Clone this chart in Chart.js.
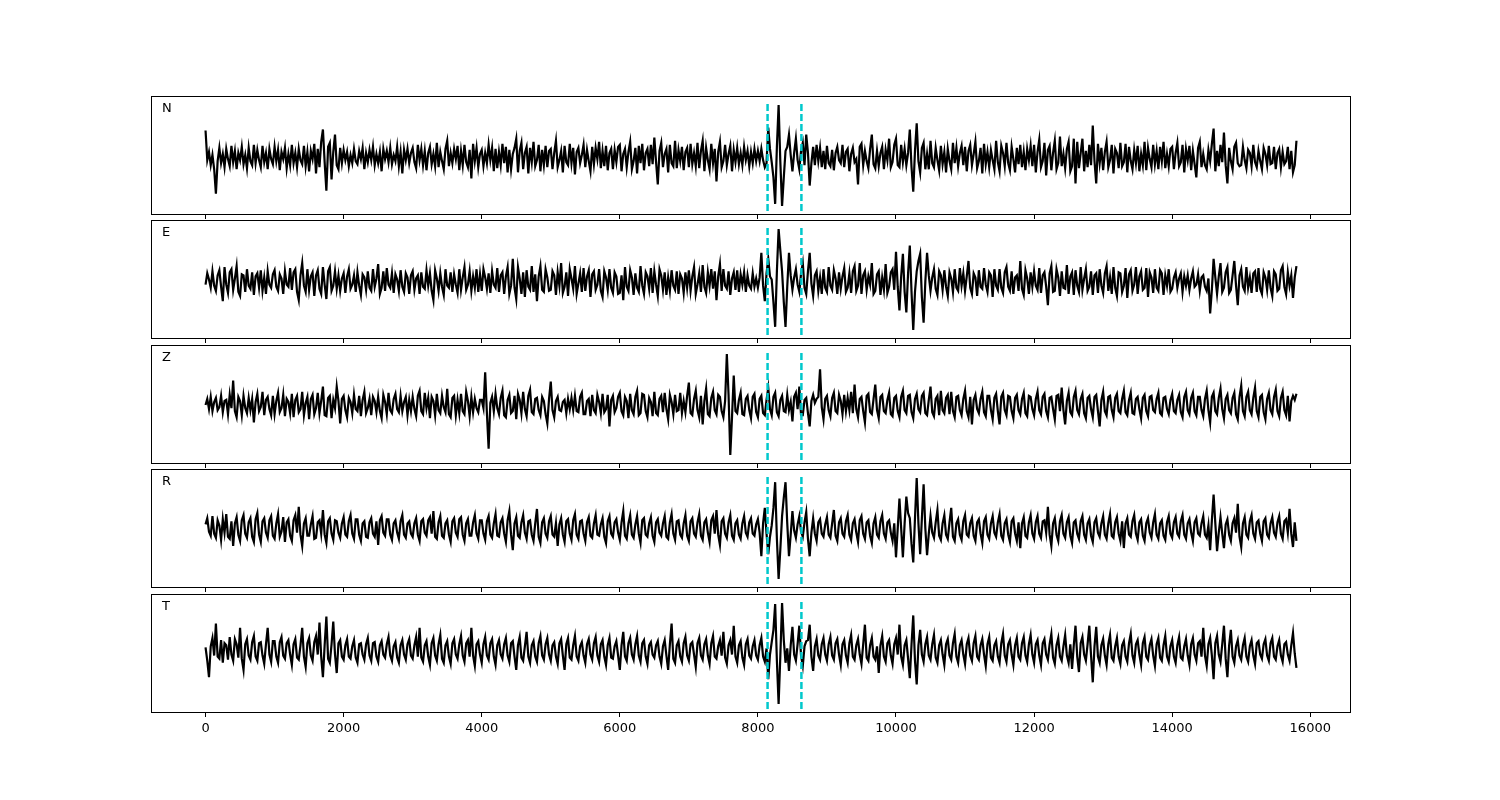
<!DOCTYPE html>
<html>
<head>
<meta charset="utf-8">
<script src="https://cdn.jsdelivr.net/npm/chart.js"></script>
<style>
  body { margin: 0; background: #fff; }
  #wrap { position: relative; width: 1500px; height: 800px; }
  #wrap canvas { position: absolute; }
</style>
</head>
<body>
<div id="wrap"></div>
<script>
// samples between points
const step = 25;
const pickTimes = [8140, 8630];
const xTicks = [0, 2000, 4000, 6000, 8000, 10000, 12000, 14000, 16000];
const channels = ["N", "E", "Z", "R", "T"];

// amplitudes read per channel (arbitrary units, up = positive)
const traceN = [
  26,-3,5,-8,2,-12,-36,-4,9,-6, 3,-10,8,-2,-9,11,-5,6,-12,4, -3,10,-7,2,-11,9,-4,-8,12,-6, 7,-3,-10,11,-5,4,-12,8,-2,-7,
  10,-4,7,-13,5,-2,9,-11,3,-8, 12,-6,4,-10,8,-3,-7,11,-9,5, -14,6,-2,13,-16,8,-10,15,27,-5, -33,10,14,-22,5,22,-8,-12,9,-6,
  7,-3,5,-9,2,-6,8,-4,-7,6, -2,9,-12,4,-5,7,-3,10,-8,3, -6,5,-14,8,-2,6,-5,9,-7,2, -4,10,-9,5,-16,7,-3,8,-6,4,
  9,-5,-11,12,-3,8,-8,6,-13,4, 10,-7,3,-9,14,-10,5,-4,-12,8, 16,-9,4,-6,8,-2,11,-13,6,-8, 12,-5,-10,7,-21,13,-4,9,-10,3,
  7,-9,4,-6,12,-3,9,-14,8,-11, 5,-8,13,-6,10,-15,7,-12,3,9, 18,-15,6,14,-12,4,10,-16,9,-5, 15,-9,-3,12,-14,7,-8,11,-10,6,
  8,-12,4,16,-10,-3,6,-15,11,-5, -8,13,-6,9,-17,5,9,-6,2,12, -10,7,-4,-14,10,-7,9,-2,15,-11, 6,-9,11,-13,4,8,-12,7,-5,10,
  12,-14,3,8,-10,5,15,-12,-4,9, -16,11,-6,13,-13,4,8,-9,12,-7, 19,-5,-27,6,14,-10,3,8,-15,12, -6,-9,16,-11,7,-4,10,-13,5,9,
  -10,13,-7,4,-9,14,-11,6,16,-14, 9,-3,-12,13,-6,8,-24,5,15,-10, -4,12,-8,3,11,-14,7,-5,9,-7, 4,-8,10,-3,6,-9,5,-6,8,-4,
  6,-4,8,-3,-10,-6,29,8,-5,-20, -46,10,51,-5,-48,-20,6,10,22,2, -14,4,18,-3,-12,6,14,-8,22,4, -28,-6,10,-8,12,-4,9,-10,6,-12,
  11,-6,-9,7,-13,4,10,-3,-6,12, -10,5,8,-14,3,9,-5,-2,-27,10, 13,-8,6,-4,-11,8,22,-7,-11,6, -9,4,10,-12,7,-3,18,-10,-5,12,
  18,-8,-10,12,-5,8,-8,4,27,-10, -34,6,33,-4,-15,9,14,-12,3,-12, 16,-6,-10,9,-3,-13,11,-7,5,-15, 8,-4,-12,14,-6,9,-9,4,11,-8,
  10,-14,6,12,-8,3,15,-11,-4,9, -16,13,-7,5,-10,7,-3,-12,16,-5, -14,11,4,-9,14,-6,-13,10,-2,-15, 9,-7,12,-10,5,-13,8,-3,11,-9,
  12,-15,5,17,-10,-4,14,-18,7,11, -13,4,16,-12,-6,20,-9,3,-11,8, 15,-14,-9,18,-26,15,-11,4,18,-14, 6,-10,12,-8,31,-4,-26,13,-6,9,
  -13,5,15,-10,-3,12,-16,8,4,-11, 14,-9,-5,13,-15,10,-4,-12,7,-6, 11,-14,3,-8,15,-13,9,-2,-10,12, -7,6,-12,10,-4,15,-11,3,-9,8,
  10,-12,4,14,-9,-5,12,-15,8,-3, 11,-13,6,-7,-20,9,15,-10,3,-8, -12,7,-4,13,28,-14,6,-9,12,-5, 24,-8,-26,9,-4,-12,10,14,-6,-9,
  -8,10,-3,-11,7,4,-9,12,-5,-10, 6,-4,-12,9,3,-8,11,-7,-6,10, -12,4,8,-10,5,-7,-4,10,-12,6, -15,-8,16
];
const traceE = [
  -3,8,2,-6,10,-4,-9,6,11,-5, -19,14,-3,-11,9,12,-8,3,15,-10, -14,7,6,-10,12,-4,-7,9,-13,5, 8,-6,11,-9,4,-12,10,-3,-6,7,
  11,-5,-9,7,3,-12,10,-3,-5,13, -8,9,12,-10,-18,6,18,-4,-10,12, -8,5,9,-14,6,11,-7,-12,14,-3, -17,10,14,-9,-4,10,-7,6,-9,3,
  8,-11,5,12,-7,-3,6,-10,9,-4, -13,7,4,-8,10,-6,-9,12,-5,3, 17,-12,-6,10,-9,13,-3,-6,8,-11, 7,2,-9,11,-5,-10,8,4,-12,6,
  10,-8,3,6,-12,9,-5,-7,11,-4, 8,-9,-18,11,3,-9,8,-5,-13,12, -4,-6,9,-10,7,-3,-11,12,-8,4, 14,-8,-3,10,-9,5,-6,12,-10,7,
  -9,12,4,-7,8,-11,10,-3,-6,13, -10,6,9,-12,5,14,-12,-4,22,-6, -17,14,3,-12,9,-15,11,-5,-8,15, -10,7,-19,5,15,-8,-10,12,4,-9,
  -8,10,6,-13,9,-4,18,-11,-5,9, -14,12,3,-7,15,-12,-2,8,-10,13, -9,5,11,-15,7,10,-8,-3,12,-9, -15,10,4,-8,12,-6,-11,9,5,-12,
  -11,6,-18,14,-5,-9,11,4,-13,8, -6,-10,15,-4,-12,9,5,-7,13,-11, 10,-3,-14,12,6,-8,9,-13,4,-9, 11,-4,-8,10,-12,7,3,-11,9,-6,
  11,-9,5,14,-12,-3,8,-10,16,-5, -11,9,-4,12,-7,10,-18,5,17,-9, 12,-4,-7,10,-13,3,9,-8,11,-10, 7,-3,9,-10,6,-4,-7,8,-5,3,
  -6,4,28,-4,-19,8,22,5,2,-20, -44,10,51,30,10,-20,-44,-5,28,6, -8,4,12,-3,-10,8,18,-6,-12,10, 28,-2,-14,6,10,-9,4,-12,12,-6,
  -10,14,-4,-8,11,3,-12,9,-7,5, 13,-10,-6,8,-11,10,15,-9,-4,18, -12,6,10,-8,5,-3,18,-12,-9,7, 10,-13,4,-8,17,-11,-5,9,12,-8,
  29,-5,-28,5,27,-10,-30,8,35,-10, -47,-10,10,20,27,-15,-40,0,28,6, -9,4,12,-7,-13,10,6,-8,11,-5, -14,9,3,-10,12,-6,-9,13,-4,8,
  -9,5,20,-6,-12,8,4,-14,11,-5, -7,13,-3,-10,9,6,-15,12,-4,-8, 12,-6,-11,9,14,-5,-9,10,-12,4, 6,-9,20,-7,-13,11,3,-12,9,-5,
  10,-4,-8,13,-11,6,9,-5,-23,8, 15,-10,-9,12,4,-14,10,-6,-7,16, -12,5,9,-13,11,-4,-10,14,-8,3, 12,-9,-5,10,-13,6,8,-11,12,-4,
  -11,8,15,-9,4,-12,14,-6,-14,9, 8,-10,-4,13,-16,7,11,-9,-3,14, -12,5,10,-8,-6,13,-15,9,4,-11, 12,-6,-9,11,8,-13,6,-4,12,-10,
  -7,4,9,-6,3,8,-10,5,-4,6, -8,3,10,-5,-3,7,-9,4,6,-5, -9,3,-31,-8,22,4,-12,5,18,-10, -6,9,14,-11,-8,6,20,-4,-23,6,
  12,-5,-9,14,-6,4,-11,8,10,-10, 13,-7,-12,9,4,-8,11,-6,-14,10, 7,-9,-7,11,15,-5,-12,9,-4,6, -16,4,15
];
const traceZ = [
  0,6,-4,8,-6,3,7,-5,-2,9, -7,4,5,-9,10,-3,24,-6,-12,8, 4,-10,9,-3,-8,7,-5,6,-17,3, 11,-6,-2,13,-10,5,8,-4,-10,9,
  -9,4,12,-7,-3,10,-11,6,3,-8, 11,-12,5,9,-7,-4,13,-10,2,8, -14,6,10,-9,-3,12,-8,4,18,-10, -11,7,9,-13,5,-3,18,4,-18,6,
  9,-5,-12,7,3,-8,10,-4,-6,9, -11,5,13,-8,-3,6,-10,8,4,-7, 8,-6,-13,10,3,-9,12,-5,-8,6, 11,-4,-7,9,-6,3,8,-10,5,-6,
  8,-4,-11,9,14,-6,-9,12,-3,7, -13,8,4,-10,11,-5,-8,9,-2,-7, 16,-9,-12,7,9,-10,5,-8,11,-6, -9,13,4,-11,8,-7,6,-3,-7,5,
  5,-3,32,-8,-43,2,8,-6,11,-3, -9,7,14,-10,-12,5,10,-8,-6,9, -14,11,5,-8,13,-4,-11,9,15,-7, -9,6,7,-5,-10,8,4,-9,-18,6,
  23,-5,-12,4,8,-5,-6,3,5,-8, 6,-4,7,-5,9,-6,-7,8,12,-9, -9,4,6,-11,10,-5,-8,10,3,-8, 11,-7,-4,10,-21,5,9,-7,-3,8,
  12,-6,-10,8,4,-13,11,-5,-9,8, 14,-10,-8,11,10,-6,-12,7,3,-11, 13,-8,-10,6,9,-7,12,-4,-14,10, 3,-9,10,-6,-5,12,-8,4,-7,9,
  22,-8,-10,6,14,-5,-12,9,-19,4, 16,-9,-11,7,13,-5,-9,10,8,-6, -12,4,50,10,-49,-12,29,-6,-8,5, 12,-9,-10,6,9,-5,-13,8,11,-7,
  -12,6,9,-8,-10,5,17,-4,-10,8, 12,-7,-11,5,9,-6,-7,10,-5,3, -16,8,12,-4,18,-10,-10,5,7,-8, -21,4,10,2,6,8,35,-2,-14,6,
  9,-5,-11,7,12,-6,-8,10,4,-9, 10,-6,7,-5,13,-8,20,-4,-12,6, 8,-6,-17,9,11,-7,-9,6,20,-5, -13,8,10,-6,-8,5,12,-9,-11,7,
  9,-6,-12,8,14,-5,-8,9,10,-7, -13,6,11,-4,-7,9,12,-8,-10,5, 18,-7,-11,6,9,-10,14,-5,-8,7, 10,-9,13,-6,-12,8,9,-5,-10,6,
  14,-6,-12,8,-19,5,10,-4,-8,6, 13,-7,-11,9,9,-5,-14,7,11,-6, -19,8,12,-5,-10,9,8,-6,-13,7, 10,-5,-9,6,12,-8,-11,9,8,-4,
  -10,6,13,-5,-9,8,11,-6,-12,7, 8,-4,-14,9,10,-6,17,-5,-19,4, 12,-7,-10,8,14,-5,-9,6,11,-8, -13,7,9,-4,-12,8,10,-6,-21,5,
  13,-6,-10,8,9,-5,-12,7,11,-6, -8,6,14,-7,-10,5,12,-8,-9,6, 8,-4,-13,7,10,-6,-11,8,9,-5, -7,6,12,-8,-10,7,8,-4,-9,5,
  11,-6,-8,5,10,-7,-12,8,13,-5, -9,7,12,-6,-10,8,8,-5,-11,6, 14,-5,-17,8,12,-6,-9,7,16,-4, -13,6,10,-5,-8,7,12,-9,-14,8,
  19,-6,-11,8,13,-5,-9,7,17,-6, -12,8,10,-7,-14,6,12,-5,-9,8, 15,-6,-11,7,13,-5,-10,9,-16,4, 9,5,11
];
const traceR = [
  4,10,-3,-7,12,-5,-9,8,3,-11, 9,-4,14,-8,-10,7,-17,5,11,-6, -12,8,13,-5,-9,6,10,-8,-13,9, 15,-6,-13,7,10,-4,-9,8,12,-7,
  -10,5,14,-8,-3,11,-13,6,9,-7, -12,8,13,-4,21,-6,-17,5,10,-7, -7,4,12,-10,-9,6,8,-5,18,-6, -14,7,10,-5,-11,8,7,-4,-9,5,
  11,-6,-8,7,13,-5,-10,9,9,-6, -12,5,7,-8,-9,6,10,-5,-8,7, -16,8,12,-4,-7,9,9,-6,-11,5, 8,-4,-10,7,13,-6,-9,5,7,-5,
  -8,5,10,-6,-12,7,9,-4,-7,8, 11,-5,17,-8,-10,6,12,-7,-9,5, 8,-6,-13,7,10,-4,-8,9,11,-6, -12,5,9,-7,-7,6,13,-5,-10,8,
  8,-5,-11,7,12,-6,-9,5,14,-7, -8,6,10,-5,-13,8,17,-6,-21,5, 11,-7,-9,6,13,-4,-10,7,8,-6, -12,5,19,-8,-14,6,10,-5,-9,7,
  12,-6,-8,5,-17,4,10,-6,-13,7, 9,-5,-11,8,14,-6,-10,7,8,-5, -12,6,11,-7,-9,5,13,-6,-7,4, 10,-8,-14,7,12,-5,-8,6,9,-4,
  -11,6,17,-7,-10,5,13,-6,-9,4, 12,-5,-14,8,10,-6,-8,5,11,-7, -13,6,9,-4,-7,5,12,-8,-10,6, 14,-5,-11,7,8,-6,-9,5,13,-7,
  -12,7,10,-5,-8,6,14,-7,-11,6, 9,-4,-13,8,12,-5,18,-6,-16,7, 10,-5,-9,6,13,-7,-11,5,8,-6, -10,5,12,-4,-8,6,10,-5,-7,4,
  9,-4,-27,5,20,-5,-25,-8,3,20, 45,-10,-49,-20,12,30,45,5,-27,-6, 17,-2,-9,4,12,-3,-8,6,16,-10, -27,-4,10,-5,-12,6,9,-5,-8,4,
  11,-6,-9,5,18,-7,-12,6,10,-5, -8,7,13,-6,-11,5,9,-4,-13,8, 12,-5,-10,6,8,-7,-14,5,11,-6, -9,7,13,-5,-10,6,8,-4,-12,5,
  -28,0,29,0,-28,5,31,15,10,-15, -33,10,49,5,-25,10,43,0,-26,-5, 12,-4,-9,6,18,-7,-11,5,13,-6, -10,6,20,-8,-12,5,9,-6,-11,7,
  13,-6,-8,5,10,-7,-12,6,9,-5, -14,7,11,-6,-10,5,12,-4,-8,6, 14,-7,-11,5,9,-6,-13,7,10,-5, -12,6,-19,5,11,-7,-9,6,13,-5,
  -10,6,12,-5,-9,7,8,-4,21,-6, -17,5,10,-6,-12,7,13,-5,-9,6, 11,-7,-14,6,8,-5,-10,7,12,-6, -11,5,9,-7,-13,6,10,-4,-8,5,
  12,-6,-10,5,14,-7,-9,6,11,-5, -12,7,-19,5,10,-6,-8,7,13,-5, -11,6,9,-7,-12,5,10,-4,-9,6, 14,-6,-10,5,8,-7,-11,6,12,-5,
  -9,6,11,-5,-8,7,13,-6,-10,5, 9,-4,-12,6,10,-5,-7,5,12,-6, -9,3,-21,8,33,5,-22,-4,11,-5, -19,4,9,-6,-12,5,10,-4,24,-8,
  -18,5,11,-6,-9,7,13,-5,-10,6, 8,-5,-12,7,10,-6,-9,5,11,-4, -8,6,12,-5,-10,7,9,-4,19,-5, -18,6,-12
];
const traceT = [
  3,-10,-26,4,12,-5,26,-6,-8,10, -12,7,5,-9,13,-4,-10,11,6,-7, 22,-8,-19,6,11,-5,-9,8,14,-6, -10,7,8,-5,-13,6,22,-4,-11,9,
  9,-6,-12,8,13,-5,-8,7,10,-4, -14,6,11,-7,-9,5,22,-6,-16,7, 12,-5,-10,8,14,-4,27,-6,-26,5, 33,-8,-12,6,28,-4,-22,7,10,-6,
  -9,5,11,-6,-8,4,10,-7,-12,6, 7,-4,-9,6,12,-5,-10,7,8,-6, -11,5,9,-4,-7,6,13,-5,-10,4, 8,-7,-12,5,10,-4,-9,6,11,-5,
  -8,5,13,-6,22,-7,-11,5,9,-6, -14,7,12,-5,-10,6,15,-8,-12,5, 9,-6,-13,7,11,-4,-8,6,14,-5, -11,7,10,-6,22,-5,-15,6,9,-4,
  -12,6,13,-5,-9,7,11,-6,-14,5, 10,-4,-8,6,12,-5,-11,7,9,-6, -19,5,13,-7,-10,4,18,-6,-12,5, 9,-6,-11,7,14,-5,-9,6,12,-4,
  -10,5,8,-6,-13,7,11,-5,-19,6, 12,-7,-9,5,14,-6,-10,4,8,-5, -12,6,11,-4,-9,7,13,-5,-11,6, 10,-6,-14,5,12,-7,-8,4,9,-5,
  -19,5,18,-6,-10,7,12,-4,-9,6, 14,-5,-11,7,10,-6,-13,5,8,-4, -7,5,9,-6,-13,4,10,-5,-19,6, 26,-8,-12,5,9,-6,-11,7,13,-5,
  -10,6,8,-4,-16,7,12,-5,-9,6, 11,-5,-13,7,14,-6,-8,4,10,-5, 18,-7,-13,5,10,-4,24,-6,-12,5, 9,-7,-14,6,11,-5,-8,4,10,-5,
  -9,5,12,-6,-11,2,-28,-4,8,20, 45,-10,-52,-5,46,10,-12,2,-20,5, 23,-4,-10,6,24,-5,-15,4,9,10, 25,-6,-20,4,11,-5,-9,6,12,-4,
  -10,6,13,-5,-9,7,11,-4,-14,6, 10,-5,-12,7,15,-6,-9,5,11,-4, -13,6,25,-7,-10,5,12,-6,-9,4, -22,5,14,-6,-11,7,10,-5,-13,6,
  12,-4,25,-6,-14,5,10,-8,-27,6, 34,-10,-33,5,20,-4,-11,6,13,-5, -9,6,15,-7,-12,5,10,-4,-14,6, 11,-5,-9,7,16,-6,-12,5,10,-4,
  -13,6,12,-5,-10,7,14,-6,-9,5, 11,-4,-15,6,13,-7,-10,5,9,-6, -12,7,16,-5,-11,6,10,-4,-14,5, 12,-6,-9,7,13,-5,-11,6,15,-4,
  -12,6,10,-5,-14,7,11,-4,-9,6, 16,-7,-13,5,12,-6,-10,4,15,-5, -12,6,-18,5,24,-6,-21,7,13,-4, -10,6,24,-5,-31,4,23,-6,-12,5,
  11,-5,-14,6,15,-7,-10,4,12,-6, -13,5,9,-6,-11,7,16,-5,-12,6, 10,-4,-14,7,13,-6,-9,5,11,-5, -15,6,12,-7,-10,5,14,-6,-11,4,
  10,-6,-12,5,13,-7,-9,4,11,-5, -14,6,12,-4,-10,7,9,-6,22,-5, -15,6,12,-5,-28,7,14,-4,-11,6, 24,-8,-26,5,20,-6,-12,4,10,-5,
  -9,5,12,-6,-11,4,10,-5,-13,7, 9,-4,-8,6,11,-5,-10,7,12,-6, -9,4,10,-5,-11,6,8,-4,-10,5, 17,-3,-17
];
const traces = [traceN, traceE, traceZ, traceR, traceT];

// page layout
const panelLeft = 151;
const panelWidth = 1200;
const panelTops = [96, 220, 345, 469, 594];
const panelHeight = 119;

// frame + channel letter
const framePlugin = {
  id: "frame",
  afterDraw(chart, args, opts) {
    const { ctx, chartArea: a } = chart;
    ctx.save();
    ctx.strokeStyle = "#000";
    ctx.lineWidth = 1;
    ctx.strokeRect(a.left + 0.5, a.top + 0.5, a.width - 1, a.height - 1);
    ctx.fillStyle = "#000";
    ctx.font = "13px 'DejaVu Sans'";
    ctx.textBaseline = "top";
    ctx.fillText(opts.label, a.left + 11, a.top + 6);
    ctx.restore();
  }
};

function makePanel(k) {
  const trace = traces[k];
  const last = k === traces.length - 1;
  const points = trace.map((v, i) => ({ x: i * step, y: v }));
  const lo = Math.min(...trace);
  const hi = Math.max(...trace);
  const span = hi - lo;

  // dashed pick markers
  const pickSets = pickTimes.map(t => ({
    data: [{ x: t, y: lo - span * 0.05 }, { x: t, y: hi + span * 0.04 }],
    borderColor: "#00c8cc",
    borderWidth: 2.5,
    borderDash: [7, 3],
    pointRadius: 0,
    order: 0
  }));

  const canvas = document.createElement("canvas");
  canvas.width = panelWidth;
  canvas.height = panelHeight + (last ? 32 : 5);
  canvas.style.left = panelLeft + "px";
  canvas.style.top = panelTops[k] + "px";
  document.getElementById("wrap").appendChild(canvas);

  new Chart(canvas, {
    type: "line",
    data: {
      datasets: [{
        data: points,
        borderColor: "#000",
        borderWidth: 2.2,
        pointRadius: 0,
        tension: 0,
        order: 1
      }, ...pickSets]
    },
    options: {
      responsive: false,
      animation: false,
      events: [],
      layout: { padding: 0 },
      plugins: {
        legend: { display: false },
        tooltip: { enabled: false },
        frame: { label: channels[k] }
      },
      scales: {
        x: {
          type: "linear",
          min: -790,
          max: 16590,
          afterBuildTicks: s => { s.ticks = xTicks.map(v => ({ value: v })); },
          afterFit: s => { s.height = last ? 32 : 5; },
          grid: { drawOnChartArea: false, drawTicks: true, tickLength: 4, color: "#000" },
          border: { display: false },
          ticks: {
            display: last,
            maxRotation: 0,
            padding: 4,
            color: "#000",
            font: { family: "DejaVu Sans", size: 13 },
            callback: v => String(v)
          }
        },
        y: {
          display: false,
          min: lo - span * 0.09,
          max: hi + span * 0.09
        }
      }
    },
    plugins: [framePlugin]
  });
}

channels.forEach((c, k) => makePanel(k));
</script>
</body>
</html>
